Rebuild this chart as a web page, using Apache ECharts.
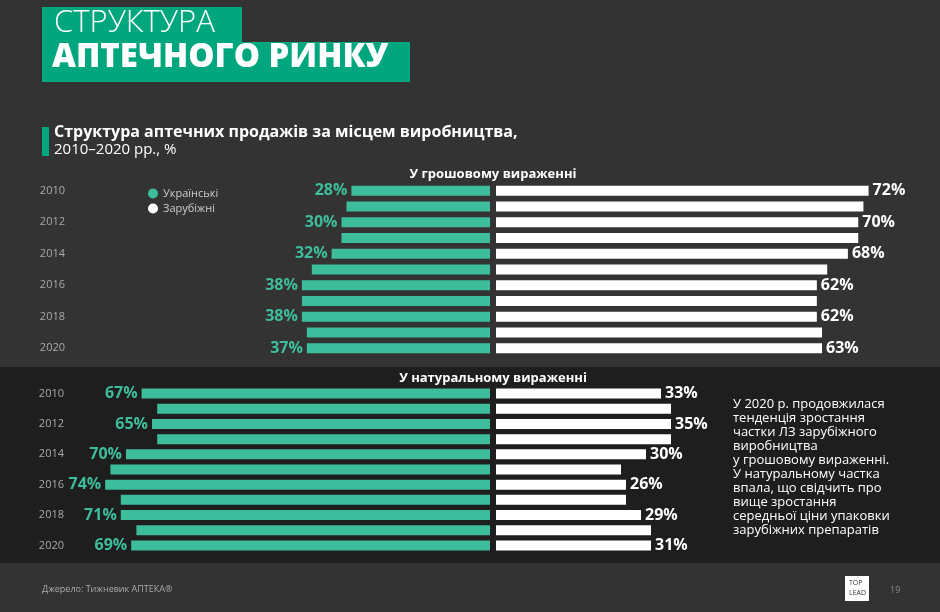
<!DOCTYPE html><html><head><meta charset="utf-8"><script src="https://cdn.jsdelivr.net/npm/echarts@6/dist/echarts.min.js"></script>
<style>body{margin:0;background:#333}#c{width:940px;height:612px}</style></head><body><div id="c"></div><script>
const years=['2010','2011','2012','2013','2014','2015','2016','2017','2018','2019','2020'];
const moneyUkr=[28,29,30,30,32,36,38,38,38,37,37];
const moneyFor=[72,71,70,70,68,64,62,62,62,63,63];
const unitsUkr=[67,64,65,64,70,73,74,71,71,68,69];
const unitsFor=[33,35,35,35,30,25,26,26,29,31,31];
const GREEN='#3dbd9c', TXT='Open Sans';
function mk(name,vals,left,color,gi){
  return {name:name,type:'bar',xAxisIndex:gi,yAxisIndex:gi,barWidth:10,
    data:vals.map((v,i)=>({value:v,label:{show:i%2===0}})),
    itemStyle:{color:color},
    label:{position:left?'left':'right',distance:4,color:color,fontFamily:TXT,fontWeight:'bold',fontSize:16,
      formatter:'{c}%'}};
}
const yA=(gi,margin,show)=>({type:'category',gridIndex:gi,data:years,inverse:true,axisLine:{show:false},axisTick:{show:false},
  axisLabel:{show:show,interval:1,margin:margin,color:'#aaa',fontSize:11,fontFamily:TXT}});
const xA=(gi,max,inv)=>({type:'value',gridIndex:gi,min:0,max:max,inverse:inv,show:false});
const c=echarts.init(document.getElementById('c'));
c.setOption({backgroundColor:'#333',animation:false,
 graphic:[
  {type:'rect',shape:{x:0,y:367,width:940,height:196},style:{fill:'#1e1e1e'},z:-10},
  {type:'rect',shape:{x:42,y:7,width:200,height:36},style:{fill:'#00a67e'}},
  {type:'rect',shape:{x:42,y:42,width:368,height:40},style:{fill:'#00a67e'}},
  {type:'text',left:54,top:8,style:{text:'СТРУКТУРА',fill:'#fff',font:'300 31px "Open Sans"'}},
  {type:'text',left:52,top:41,style:{text:'АПТЕЧНОГО РИНКУ',fill:'#fff',font:'800 33px "Open Sans"'}},
  {type:'rect',shape:{x:42,y:127,width:7,height:29},style:{fill:'#00a67e'}},
  {type:'text',left:54,top:124,style:{text:'Структура аптечних продажів за місцем виробництва,',fill:'#fff',font:'bold 16px "Open Sans"'}},
  {type:'text',left:54,top:142,style:{text:'2010–2020 рр., %',fill:'#fff',font:'15px "Open Sans"'}},
  {type:'text',x:493,top:168,style:{text:'У грошовому вираженні',fill:'#fff',font:'bold 13px "Open Sans"',textAlign:'center'}},
  {type:'text',x:493,top:372,style:{text:'У натуральному вираженні',fill:'#fff',font:'bold 13px "Open Sans"',textAlign:'center'}},
  {type:'text',left:733,top:397,style:{text:'У 2020 р. продовжилася\nтенденція зростання\nчастки ЛЗ зарубіжного\nвиробництва\nу грошовому вираженні.\nУ натуральному частка\nвпала, що свідчить про\nвище зростання\nсередньої ціни упаковки\nзарубіжних препаратів',fill:'#fff',font:'13px "Open Sans"',lineHeight:14}},
  {type:'text',left:42,top:585,style:{text:'Джерело: Тижневик АПТЕКА®',fill:'#aaa',font:'9px "Open Sans"'}},
  {type:'rect',shape:{x:845,y:576,width:24,height:25},style:{fill:'#fff'}},
  {type:'text',left:849,top:578,style:{text:'TOP\nLEAD',fill:'#333',font:'7px "Open Sans"',lineHeight:10}},
  {type:'text',left:890,top:586,style:{text:'19',fill:'#888',font:'9px "Open Sans"'}}
 ],
 legend:{left:143,top:183,orient:'vertical',itemGap:4,icon:'circle',itemWidth:10,itemHeight:10,
   textStyle:{color:'#ccc',fontSize:11,fontFamily:TXT},data:['Українські','Зарубіжні']},
 grid:[{left:94,top:183,width:396,height:173},{left:496,top:183,width:414,height:173},
       {left:74,top:386,width:416,height:167},{left:496,top:386,width:200,height:167}],
 xAxis:[xA(0,80,true),xA(1,80,false),xA(2,80,true),xA(3,40,false)],
 yAxis:[yA(0,29,true),yA(1,0,false),yA(2,10,true),yA(3,0,false)],
 series:[
  mk('Українські',moneyUkr,true,GREEN,0),
  mk('Зарубіжні',moneyFor,false,'#fff',1),
  mk('Українські',unitsUkr,true,GREEN,2),
  mk('Зарубіжні',unitsFor,false,'#fff',3)
 ]});
</script></body></html>
